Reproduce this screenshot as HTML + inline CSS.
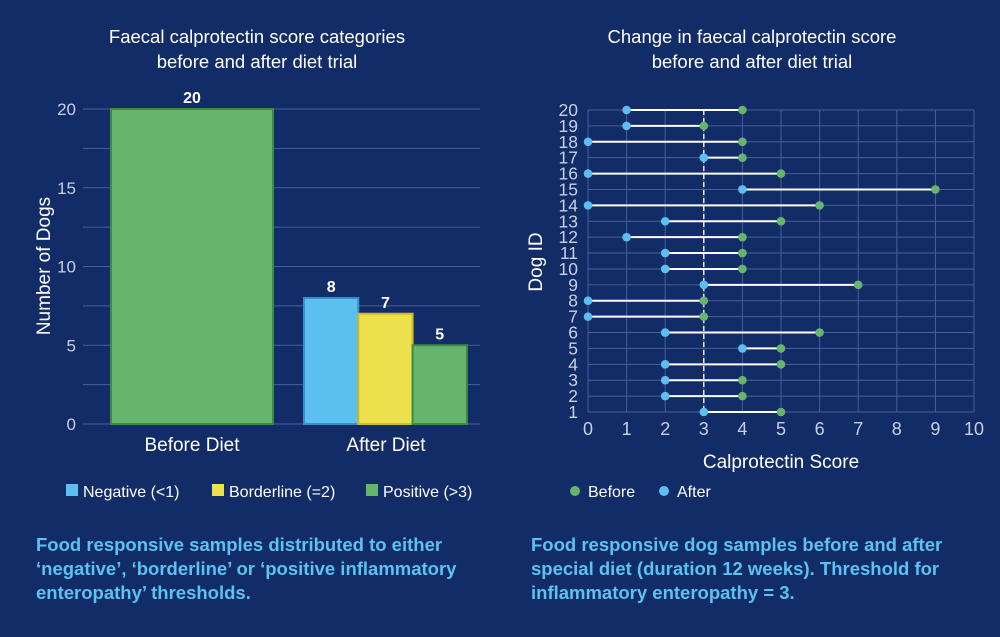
<!DOCTYPE html>
<html><head><meta charset="utf-8"><style>
html,body{margin:0;padding:0;background:#122c68;}
svg{display:block;font-family:"Liberation Sans",sans-serif;}
.cap{position:absolute;font-family:"Liberation Sans Narrow","Liberation Sans",sans-serif;font-weight:bold;color:#5bc2f2;font-size:18.5px;line-height:24px;}
</style></head><body>
<div style="position:relative;width:1000px;height:637px;overflow:hidden;background:#122c68">
<svg id="s" width="1000" height="637"></svg>
<div class="cap" style="left:36px;top:533px;width:460px">Food responsive samples distributed to either ‘negative’, ‘borderline’ or ‘positive inflammatory enteropathy’ thresholds.</div>
<div class="cap" style="left:531px;top:533px;width:460px">Food responsive dog samples before and after special diet (duration 12 weeks). Threshold for inflammatory enteropathy = 3.</div>
</div>
<script>
const barGroups=["Before Diet","After Diet"];
const beforeCounts=[0,0,20];
const afterCounts=[8,7,5];
const catNames=["Negative (<1)","Borderline (=2)","Positive (>3)"];
const yTicks=[0,5,10,15,20];
const dogIds=[1,2,3,4,5,6,7,8,9,10,11,12,13,14,15,16,17,18,19,20];
const beforeScores=[5,4,4,5,5,6,3,3,7,4,4,4,5,6,9,5,4,4,3,4];
const afterScores=[3,2,2,2,4,2,0,0,3,2,2,1,2,0,4,0,3,0,1,1];
const xTicks=[0,1,2,3,4,5,6,7,8,9,10];
const threshold=3;

const NS="http://www.w3.org/2000/svg",s=document.getElementById('s');
function E(t,a,txt,p){const e=document.createElementNS(NS,t);for(const k in a)e.setAttribute(k,a[k]);if(txt!=null)e.textContent=txt;(p||s).appendChild(e);return e;}
const cols=["#5bbff0","#ece04c","#66b56d"],strokes=["#3b8fc8","#c9bb2e","#3f8a47"];
let t=E('text',{x:257,y:43,'text-anchor':'middle',fill:'#fff','font-size':18.5},'Faecal calprotectin score categories');

t=E('text',{x:257,y:68,'text-anchor':'middle',fill:'#fff','font-size':18.5},'before and after diet trial');

t=E('text',{x:752,y:43,'text-anchor':'middle',fill:'#fff','font-size':18.5},'Change in faecal calprotectin score');

t=E('text',{x:752,y:68,'text-anchor':'middle',fill:'#fff','font-size':18.5},'before and after diet trial');


const L={x0:83,x1:480,y0:424,y1:109,max:20};
const ly=v=>L.y0-(v/L.max)*(L.y0-L.y1);
for(let v=0;v<=20;v+=2.5){const g=E('line',{x1:L.x0,x2:L.x1,y1:ly(v),y2:ly(v),stroke:'#4a5f93','stroke-width':1});
}
yTicks.forEach(v=>{const e=E('text',{x:76,y:ly(v)+6,'text-anchor':'end',fill:'#c9d0e0','font-size':17},v);
});
t=E('text',{x:0,y:0,transform:'translate(50,266) rotate(-90)','text-anchor':'middle',fill:'#fff','font-size':19},'Number of Dogs');

function bar(x,w,v,i,name){const r=E('rect',{x:x,y:ly(v),width:w,height:L.y0-ly(v),fill:cols[i],stroke:strokes[i],'stroke-width':2});

const l=E('text',{x:x+w/2,y:ly(v)-6,'text-anchor':'middle',fill:'#fff','font-size':16,'font-weight':'bold'},v);
}
beforeCounts.forEach((v,i)=>{if(v>0)bar(111,162,v,i,'bar-before-'+i);});
afterCounts.forEach((v,i)=>bar(304+i*54.3,54.3,v,i,'bar-after-'+i));
[[192,barGroups[0]],[386,barGroups[1]]].forEach(([x,n])=>{const e=E('text',{x:x,y:451,'text-anchor':'middle',fill:'#fff','font-size':19},n);
});
[66,212,366].forEach((x,i)=>{const r=E('rect',{x:x,y:484,width:12,height:12,fill:cols[i]});

const e=E('text',{x:x+17,y:497,fill:'#fff','font-size':16},catNames[i]);
});

const R={x0:588,x1:974,y1:412,y20:110};
const rx=v=>R.x0+v/10*(R.x1-R.x0);
const ry=id=>R.y1-(id-1)/19*(R.y1-R.y20);
xTicks.forEach(v=>{const g=E('line',{x1:rx(v),x2:rx(v),y1:R.y20,y2:R.y1,stroke:'#4a5f93'});

const e=E('text',{x:rx(v),y:435,'text-anchor':'middle',fill:'#c9d0e0','font-size':18},v);
});
dogIds.forEach(id=>{const g=E('line',{x1:R.x0,x2:R.x1,y1:ry(id),y2:ry(id),stroke:'#4a5f93'});

const e=E('text',{x:578,y:ry(id)+6,'text-anchor':'end',fill:'#c9d0e0','font-size':17.5},id);
});
const th=E('line',{x1:rx(threshold),x2:rx(threshold),y1:R.y20,y2:R.y1,stroke:'#fff','stroke-width':1.3,'stroke-dasharray':'5,3'});

dogIds.forEach((id,i)=>{const y=ry(id);
const ln=E('line',{x1:rx(afterScores[i]),x2:rx(beforeScores[i]),y1:y,y2:y,stroke:'#fff','stroke-width':2});

const b=E('circle',{cx:rx(beforeScores[i]),cy:y,r:4.3,fill:'#66b56d'});

const a=E('circle',{cx:rx(afterScores[i]),cy:y,r:4.3,fill:'#5bbff0'});
});
t=E('text',{x:781,y:468,'text-anchor':'middle',fill:'#fff','font-size':19},'Calprotectin Score');

t=E('text',{x:0,y:0,transform:'translate(542,262) rotate(-90)','text-anchor':'middle',fill:'#fff','font-size':19},'Dog ID');

[[575,'#66b56d','Before'],[664,'#5bbff0','After']].forEach(([x,c,n])=>{const d=E('circle',{cx:x,cy:491,r:5,fill:c});

const e=E('text',{x:x+13,y:497,fill:'#fff','font-size':16},n);
});
</script>
</body></html>
